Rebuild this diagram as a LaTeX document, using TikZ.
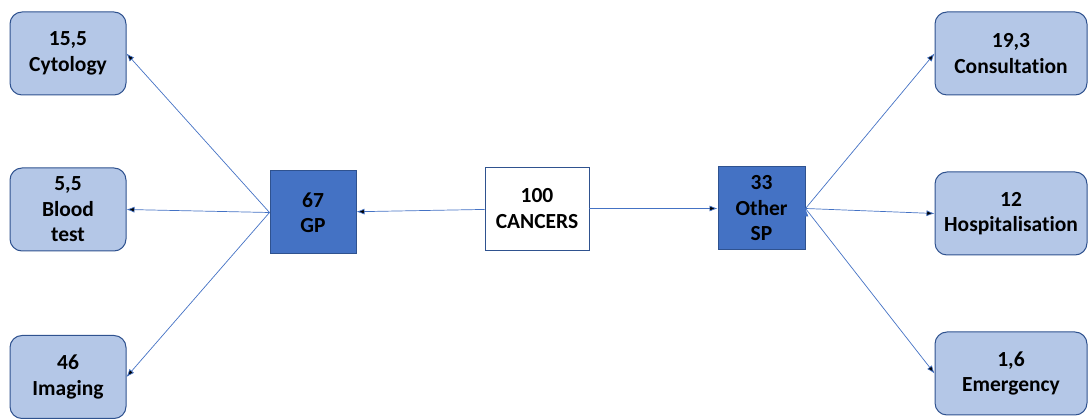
\documentclass[tikz,border=0pt]{standalone}
\usepackage{fontspec}
\setmainfont[Ligatures=NoCommon]{Carlito}
\usetikzlibrary{positioning,arrows.meta}
\definecolor{darkfill}{HTML}{4472C4}
\definecolor{lightfill}{HTML}{B4C7E7}
\definecolor{rim}{HTML}{2F528F}

\begin{document}
\begin{tikzpicture}[x=1pt,y=-1pt,on grid,
  txt/.style={align=center,font=\fontsize{21.5}{25.5}\selectfont\bfseries},
  leaf/.style={txt,draw=rim,line width=1pt,fill=lightfill,rounded corners=12pt,minimum width=116pt,minimum height=83pt},
  wide/.style={leaf,minimum width=152pt},
  group/.style={txt,draw=rim,line width=1pt,fill=darkfill,minimum width=86pt,minimum height=83pt},
  total/.style={txt,draw=rim,line width=0.8pt,fill=white,minimum width=104pt,minimum height=83pt},
  link/.style={draw=darkfill,line width=0.7pt,-{Latex[length=8pt,width=6pt]}}]
\useasboundingbox (0,0) rectangle (1088,419);
\node[total] (cancers) at (537,208.5) {100\\CANCERS};
\node[group] (gp) at (313,212.5) {67\\GP};
\node[group,minimum width=87pt] (sp) at (761.5,208.5) {33\\Other\\SP};
\node[leaf] (cyto) at (68,53.5) {15,5\\Cytology};
\node[leaf] (blood) [below=156pt of cyto] {5,5\\Blood\\test};
\node[leaf] (img) at (68,377) {46\\Imaging};
\node[wide] (cons) at (1011,53.5) {19,3\\Consultation};
\node[wide] (hosp) [below=160pt of cons] {12\\Hospitalisation};
\node[wide] (emerg) [below=160pt of hosp] {1,6\\Emergency};
\path[link]
(cancers) edge (gp) edge (sp)
(gp.west) edge (cyto.east) edge (blood.east) edge (img.east)
(sp.east) edge (cons.west) edge (hosp.west) edge (emerg.west);
\end{tikzpicture}
\end{document}
